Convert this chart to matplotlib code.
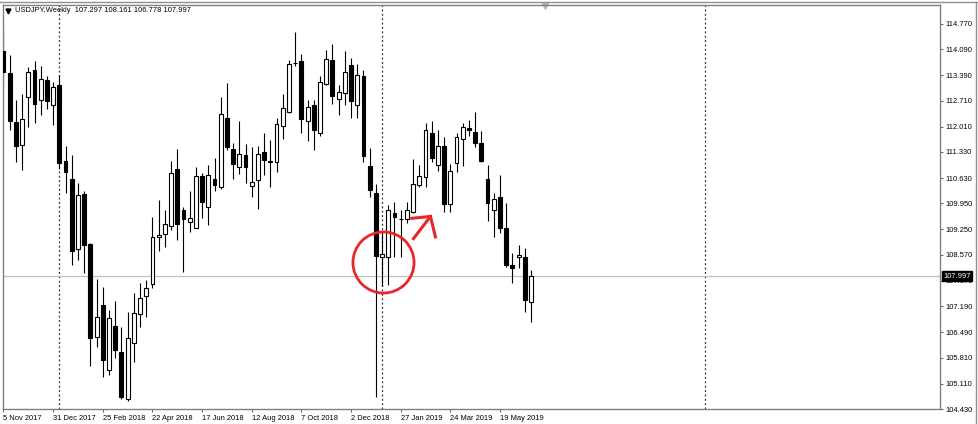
#USDJPY weekly candlestick chart (MT4 style), Nov 2017 - Jun 2019
import matplotlib.pyplot as plt
from matplotlib.lines import Line2D
import matplotlib.transforms as mtrans
import numpy as np
import pandas as pd

plt.rcParams['font.family'] = ['Liberation Sans', 'DejaVu Sans']

#weekly OHLC data, one entry per week starting 5 Nov 2017
opens = [114.03, 113.45, 112.13, 111.52, 112.80, 113.52, 112.73, 113.27, 112.59, 113.13,
         111.10, 110.60, 108.72, 110.20, 108.85, 106.35, 107.21, 105.48, 106.67, 105.95,
         104.69, 106.19, 106.98, 107.47, 107.79, 109.06, 109.12, 109.35, 110.88, 109.77,
         109.46, 109.30, 110.69, 109.84, 110.60, 110.40, 112.23, 111.40, 110.94, 111.24,
         110.43, 110.58, 111.32, 111.05, 111.05, 112.04, 112.40, 113.71, 113.76, 112.15,
         112.58, 111.85, 113.16, 113.79, 112.75, 112.91, 113.67, 112.58, 113.36, 110.96,
         110.22, 108.50, 108.52, 109.70, 109.53, 109.52, 109.73, 110.45, 110.67, 111.83,
         110.98, 111.48, 109.93, 111.03, 111.67, 111.97, 111.88, 111.57, 110.61, 109.77,
         110.11, 109.28, 108.30, 108.50, 108.52, 107.297]
highs = [114.74, 113.94, 112.73, 112.88, 113.61, 113.76, 113.64, 113.36, 113.22, 113.40,
         111.49, 111.24, 110.51, 110.27, 108.88, 107.91, 107.70, 107.09, 107.33, 106.64,
         107.04, 107.54, 107.80, 107.89, 109.58, 110.04, 109.77, 111.09, 111.40, 109.86,
         110.27, 110.94, 110.76, 110.98, 111.16, 112.80, 113.19, 111.57, 112.17, 111.54,
         111.46, 111.49, 111.85, 111.65, 112.24, 112.88, 113.80, 114.55, 113.96, 112.73,
         112.73, 113.36, 114.07, 114.22, 113.13, 114.03, 113.85, 113.70, 113.53, 111.43,
         110.47, 109.16, 109.91, 110.00, 109.77, 110.00, 111.13, 110.98, 112.10, 112.16,
         111.91, 111.74, 111.01, 111.83, 112.12, 112.19, 112.40, 111.90, 110.98, 110.24,
         110.70, 109.95, 108.61, 108.83, 108.74, 108.161]
lows = [113.09, 111.92, 111.07, 110.85, 112.01, 112.10, 112.31, 112.49, 112.06, 110.87,
        110.22, 108.30, 108.43, 108.07, 105.59, 106.10, 105.28, 105.34, 105.79, 104.69,
        104.65, 105.70, 106.64, 106.91, 107.69, 108.66, 108.77, 109.24, 108.97, 108.12,
        109.19, 109.28, 109.55, 109.37, 110.28, 110.34, 111.39, 110.60, 110.74, 110.51,
        110.13, 109.79, 110.70, 110.40, 110.78, 111.67, 112.37, 113.64, 111.83, 111.63,
        111.39, 111.77, 113.13, 112.61, 112.32, 112.59, 112.24, 112.24, 111.07, 110.13,
        104.74, 107.73, 107.76, 108.52, 108.52, 109.42, 109.70, 110.40, 110.38, 111.05,
        110.83, 109.73, 109.73, 110.80, 110.96, 111.76, 111.47, 111.05, 109.49, 109.06,
        109.15, 108.25, 107.82, 108.21, 107.04, 106.778]
closes = [113.49, 112.15, 111.50, 112.21, 113.47, 112.61, 113.28, 112.71, 113.07, 111.03,
          110.80, 108.66, 110.18, 108.82, 106.33, 106.90, 105.75, 106.86, 106.01, 104.76,
          106.33, 107.00, 107.40, 107.67, 109.06, 109.09, 109.39, 110.76, 109.40, 109.52,
          109.55, 110.69, 110.00, 110.71, 110.45, 112.35, 111.46, 111.01, 111.28, 110.94,
          110.53, 111.28, 111.12, 111.08, 112.08, 112.52, 113.69, 113.72, 112.22, 112.55,
          111.91, 113.20, 113.82, 112.82, 112.95, 113.49, 112.71, 113.40, 111.21, 110.31,
          108.54, 108.58, 109.77, 109.58, 109.52, 109.77, 110.47, 110.69, 111.92, 111.16,
          111.48, 109.94, 110.83, 111.73, 112.01, 111.92, 111.57, 111.10, 109.97, 110.06,
          109.28, 108.30, 108.21, 108.57, 107.36, 107.997]

#axis labels
price_ticks = [114.770, 114.090, 113.390, 112.710, 112.010, 111.330, 110.630, 109.950,
               109.250, 108.570, 107.870, 107.190, 106.490, 105.810, 105.110, 104.430]
date_labels = ["5 Nov 2017", "31 Dec 2017", "25 Feb 2018", "22 Apr 2018", "17 Jun 2018",
               "12 Aug 2018", "7 Oct 2018", "2 Dec 2018", "27 Jan 2019", "24 Mar 2019",
               "19 May 2019"]
last_price = 107.997
header = "USDJPY,Weekly  107.297 108.161 106.778 107.997"

#week index is the x coordinate of each candle
weeks = pd.date_range("2017-11-05", periods=152, freq="W-SUN")
x = np.arange(len(opens))
o = np.array(opens); h = np.array(highs); l = np.array(lows); c = np.array(closes)
up = c >= o

fig = plt.figure(figsize=(9.79, 4.24), dpi=100)
ax = fig.add_axes([3/979, 15/424, 937/979, 404.5/424])

#wicks
ax.vlines(x, l, h, color="black", lw=0.8, zorder=2)
#bodies: white for up weeks, black for down weeks
bottoms = np.minimum(o, c)
heights = np.maximum(np.abs(c - o), 0.015)
ax.bar(x[up], heights[up], bottom=bottoms[up], width=0.62, facecolor="white",
       edgecolor="black", lw=0.8, zorder=3)
ax.bar(x[~up], heights[~up], bottom=bottoms[~up], width=0.62, facecolor="black",
       edgecolor="black", lw=0.8, zorder=3)

#year separators (first week of each year)
year_start = [i for i in range(1, len(weeks)) if weeks[i].year != weeks[i-1].year]
for i in year_start:
    ax.axvline(i, color="#303030", lw=0.9, ls=(0, (1.5, 2)), zorder=1)

#current price line and label
ax.axhline(last_price, color="#c0c0c0", lw=0.9, zorder=1)
trans = mtrans.blended_transform_factory(ax.transAxes, ax.transData)
ax.text(1.0035, last_price, "%.3f" % last_price, transform=trans, color="white",
        fontsize=5.4, ha="left", va="center", zorder=10, clip_on=False,
        bbox=dict(boxstyle="square,pad=0.2", fc="black", ec="black"))

#red annotation: circle round the reversal and an arrow up
red = "#e8272b"
ax.plot(61.2, 108.38, marker="o", ms=44, mfc="none", mec=red, mew=2.0, zorder=6)
tip = (68.8, 109.60)
ax.plot([65.9, tip[0]], [108.97, tip[1]], color=red, lw=2.2, solid_capstyle="butt", zorder=6)
ax.plot([65.8, tip[0]], [109.55, tip[1]], color=red, lw=2.2, zorder=6)
ax.plot([69.6, tip[0]], [109.05, tip[1]], color=red, lw=2.2, zorder=6)

#limits
ax.set_xlim(-0.08, 150.9)
ax.set_ylim(104.43, 115.29)

#price scale on the right
ax.yaxis.tick_right()
ax.set_yticks(price_ticks)
ax.set_yticklabels(["%.3f" % p for p in price_ticks])
ax.tick_params(axis="y", direction="out", length=2.2, width=0.7, colors="#606060",
               labelcolor="black", labelsize=5.4, pad=1.5)

#date scale
ax.set_xticks(np.arange(0, 81, 8))
ax.set_xticklabels(date_labels, ha="left")
ax.tick_params(axis="x", direction="out", length=2.5, width=0.7, colors="#606060",
               labelcolor="black", labelsize=5.4, pad=1.5)

for s in ax.spines.values():
    s.set_color("#808080")
    s.set_linewidth(1.0)

#header text
ax.text(0.0128, 0.985, header, transform=ax.transAxes, fontsize=5.4, ha="left", va="center")
ax.plot(0.0055, 0.985, marker="v", ms=3.5, color="black", transform=ax.transAxes, clip_on=False)
#chart shift marker at top
ax.plot(0.578, 0.997, marker="v", ms=4, color="#b8b8b8", transform=ax.transAxes, clip_on=False)

#window frame lines
fig.add_artist(Line2D([0, 977/979], [422.5/424, 422.5/424], color="#909090", lw=1.0))
fig.add_artist(Line2D([976/979, 976/979], [0, 422.5/424], color="#909090", lw=1.0))

fig.savefig("out.png", dpi=100)
